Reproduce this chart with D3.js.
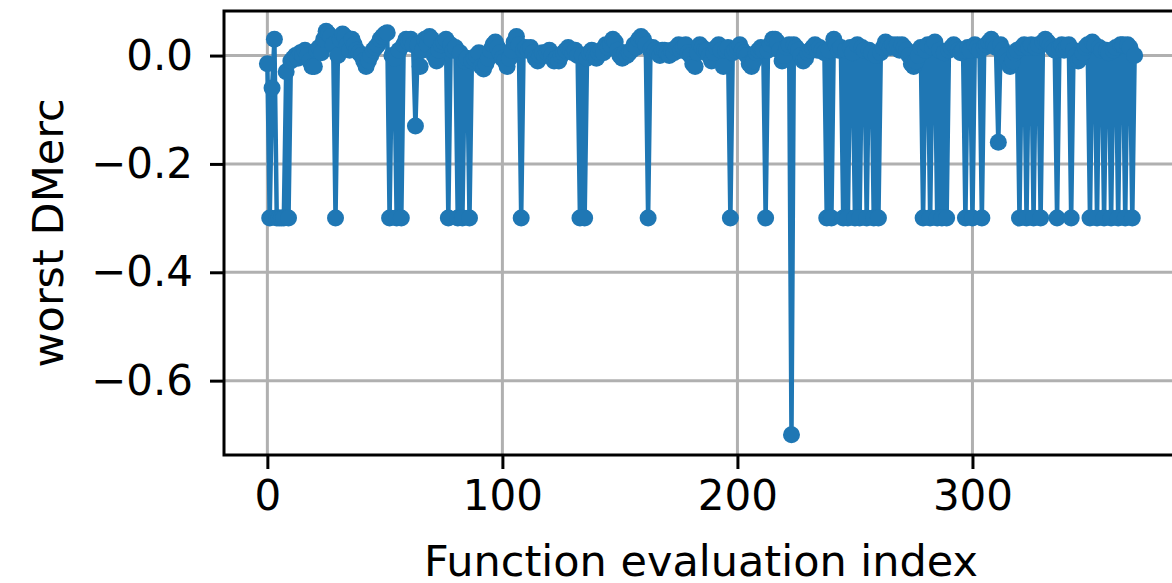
<!DOCTYPE html>
<html>
<head>
<meta charset="utf-8">
<script src="https://cdn.jsdelivr.net/npm/d3@7"></script>
<style>
  html, body { margin: 0; padding: 0; background: #fff; }
  svg { display: block; }
  text { font-family: "DejaVu Sans", sans-serif; fill: #000; }
</style>
</head>
<body>
<svg id="chart" width="1172" height="583"></svg>
<script>
// ---- data ----
const worstDMerc = [
  -0.015, -0.3, -0.06, 0.03, -0.3, -0.3, -0.3, -0.3, -0.03, -0.3,
  -0.01, -0.005, 0.0, -0.005, 0.005, 0.0, 0.01, 0.0, -0.01, -0.02,
  -0.02, 0.01, 0.015, 0.005, 0.03, 0.045, 0.04, 0.035, 0.02, -0.3,
  0.0, 0.03, 0.04, 0.035, 0.02, 0.01, 0.03, 0.02, 0.01, 0.005,
  0.0, -0.01, -0.02, -0.01, 0.0, 0.01, 0.015, 0.02, 0.03, 0.035,
  0.04, 0.042, -0.3, 0.0, -0.005, -0.3, 0.01, -0.3, 0.02, 0.03,
  0.025, 0.03, 0.02, -0.13, 0.02, -0.02, 0.01, 0.03, 0.02, 0.035,
  0.03, 0.0, -0.01, 0.01, 0.02, 0.025, 0.03, -0.3, 0.02, 0.01,
  0.015, -0.3, 0.005, -0.3, -0.01, -0.005, -0.3, -0.01, -0.005, 0.0,
  0.005, -0.02, -0.025, -0.015, -0.005, 0.01, 0.02, 0.025, 0.015, 0.005,
  -0.005, -0.01, -0.02, -0.005, 0.01, 0.025, 0.035, 0.02, -0.3, 0.01,
  0.015, 0.01, 0.015, 0.005, -0.005, -0.01, 0.0, 0.005, 0.0, 0.005,
  0.01, 0.0, -0.01, -0.005, -0.01, 0.0, 0.005, 0.01, 0.015, 0.01,
  0.005, 0.01, 0.0, -0.3, 0.0, -0.3, -0.005, 0.005, 0.01, 0.0,
  -0.005, 0.005, 0.01, 0.005, 0.02, 0.015, 0.02, 0.03, 0.025, 0.01,
  0.0, -0.005, 0.005, 0.0, 0.005, 0.01, 0.02, 0.015, 0.03, 0.035,
  0.03, 0.02, -0.3, 0.01, 0.015, 0.01, 0.005, 0.0, 0.01, 0.01,
  0.005, 0.0, 0.01, 0.005, 0.015, 0.02, 0.01, 0.015, 0.02, 0.005,
  0.0, -0.015, -0.02, 0.005, 0.02, 0.015, 0.01, 0.01, 0.0, -0.01,
  0.005, 0.015, 0.02, 0.01, -0.02, 0.01, 0.015, -0.3, 0.005, 0.01,
  0.015, 0.02, 0.01, 0.005, 0.0, -0.015, -0.02, -0.01, 0.005, 0.01,
  0.015, 0.01, -0.3, 0.01, 0.02, 0.03, 0.03, 0.025, 0.01, -0.01,
  0.0, 0.015, 0.02, -0.7, 0.02, 0.015, 0.01, 0.0, -0.01, -0.005,
  0.005, 0.01, 0.015, 0.02, 0.01, 0.015, 0.01, 0.005, -0.3, 0.01,
  -0.3, 0.03, 0.02, 0.01, 0.015, -0.3, 0.01, -0.3, 0.015, 0.005,
  -0.3, 0.02, -0.3, 0.015, 0.01, -0.3, 0.01, 0.005, -0.3, 0.0,
  -0.3, 0.005, 0.015, 0.025, 0.02, 0.015, 0.02, 0.015, 0.02, 0.01,
  0.02, 0.015, 0.01, 0.0, -0.015, -0.02, -0.01, 0.0, 0.015, -0.3,
  0.01, 0.02, -0.3, 0.015, 0.025, -0.3, 0.01, -0.3, 0.005, -0.3,
  0.01, 0.015, 0.02, 0.015, 0.01, 0.005, 0.01, -0.3, 0.015, 0.01,
  -0.3, 0.02, 0.015, 0.01, -0.3, 0.015, 0.02, 0.025, 0.03, 0.02,
  0.015, -0.16, 0.02, 0.01, 0.0, -0.01, -0.02, -0.01, 0.005, 0.01,
  -0.3, 0.015, 0.02, -0.3, 0.015, 0.02, -0.3, 0.015, 0.02, -0.3,
  0.025, 0.03, 0.025, 0.02, 0.015, 0.01, -0.3, 0.015, 0.02, 0.01,
  0.015, 0.02, -0.3, 0.01, 0.0, -0.01, -0.005, 0.005, 0.015, 0.02,
  -0.3, 0.025, 0.02, -0.3, 0.015, 0.01, -0.3, 0.01, 0.005, -0.3,
  0.01, 0.015, -0.3, 0.02, 0.02, -0.3, 0.02, 0.015, -0.3, 0.0
];
const xTicks = [0, 100, 200, 300];
const yTicks = [0.0, -0.2, -0.4, -0.6];
const xLabel = "Function evaluation index";
const yLabel = "worst DMerc";

// ---- layout ----
const W = 1172, H = 583;
const ax = { left: 224, right: 1178, top: 11, bottom: 455 };
const color = "#1f77b4";
const tickFont = 42;
const labelFont = 43;

const svg = d3.select("#chart");
const data = worstDMerc.map((v, i) => ({ i, v }));

const xExt = [0, worstDMerc.length - 1];
const xPad = (xExt[1] - xExt[0]) * 0.05;
const x = d3.scaleLinear().domain([xExt[0] - xPad, xExt[1] + xPad]).range([ax.left, ax.right]);
const yExt = d3.extent(worstDMerc);
const yPad = (yExt[1] - yExt[0]) * 0.05;
const y = d3.scaleLinear().domain([yExt[0] - yPad, yExt[1] + yPad]).range([ax.bottom, ax.top]);

svg.append("defs").append("clipPath").attr("id", "clip")
  .append("rect").attr("x", ax.left).attr("y", ax.top)
  .attr("width", ax.right - ax.left).attr("height", ax.bottom - ax.top);

// grid
const grid = svg.append("g");
grid.selectAll(".gx").data(xTicks).join("line")
  .attr("x1", d => x(d)).attr("x2", d => x(d))
  .attr("y1", ax.top).attr("y2", ax.bottom)
  .attr("stroke", "#b0b0b0").attr("stroke-width", 3);
grid.selectAll(".gy").data(yTicks).join("line")
  .attr("y1", d => y(d)).attr("y2", d => y(d))
  .attr("x1", ax.left).attr("x2", ax.right)
  .attr("stroke", "#b0b0b0").attr("stroke-width", 3);

// line + markers
const plot = svg.append("g").attr("clip-path", "url(#clip)");
plot.append("path").datum(data)
  .attr("fill", "none").attr("stroke", color).attr("stroke-width", 4.5)
  .attr("stroke-linejoin", "round").attr("stroke-linecap", "square")
  .attr("d", d3.line().x(d => x(d.i)).y(d => y(d.v)));
plot.selectAll("circle").data(data).join("circle")
  .attr("cx", d => x(d.i)).attr("cy", d => y(d.v)).attr("r", 8.5)
  .attr("fill", color);

// axes
const fmtY = d => (d < 0 ? "\u2212" : "") + Math.abs(d).toFixed(1);
const xAxis = d3.axisBottom(x).tickValues(xTicks).tickFormat(d3.format("d"))
  .tickSize(14).tickPadding(11);
const yAxis = d3.axisLeft(y).tickValues(yTicks).tickFormat(fmtY)
  .tickSize(14).tickPadding(17);

const gx = svg.append("g").attr("transform", `translate(0,${ax.bottom})`).call(xAxis);
const gy = svg.append("g").attr("transform", `translate(${ax.left},0)`).call(yAxis);
[gx, gy].forEach(g => {
  g.select(".domain").remove();
  g.selectAll(".tick line").attr("stroke", "#000").attr("stroke-width", 3);
  g.selectAll(".tick text").attr("font-size", tickFont).attr("font-family", "DejaVu Sans").attr("fill", "#000");
});

// spines (right one falls outside the image)
const sp = svg.append("g").attr("stroke", "#000").attr("stroke-width", 3).attr("fill", "none");
sp.append("rect").attr("x", ax.left).attr("y", ax.top)
  .attr("width", ax.right - ax.left).attr("height", ax.bottom - ax.top);

// labels
svg.append("text").attr("x", (ax.left + ax.right) / 2).attr("y", 576)
  .attr("text-anchor", "middle").attr("font-size", labelFont).text(xLabel);
svg.append("text").attr("transform", `translate(63,${(ax.top + ax.bottom) / 2}) rotate(-90)`)
  .attr("text-anchor", "middle").attr("font-size", labelFont).text(yLabel);
</script>
</body>
</html>
